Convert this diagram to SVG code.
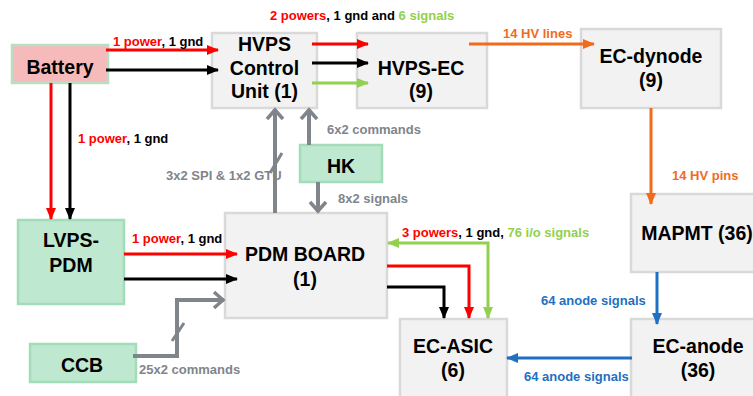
<svg xmlns="http://www.w3.org/2000/svg" width="753" height="396" viewBox="0 0 753 396">
<style>
.box{fill:#f2f2f2;stroke:#d9d9d9;stroke-width:2.5}
.gbox{fill:#bfe8d0;stroke:#a3dcb8;stroke-width:2.5}
.pbox{fill:#f7baba;stroke:#b7dfc4;stroke-width:2.5}
.t{font-family:"Liberation Sans",Arial,sans-serif;font-weight:bold;font-size:19.5px;fill:#000;text-anchor:middle}
.l{font-family:"Liberation Sans",Arial,sans-serif;font-weight:bold;font-size:13px}
.r{fill:#ff0000}.k{fill:#000}.g{fill:#92d050}.o{fill:#f26b1d}.b{fill:#1f70c1}.y{fill:#80858c}
.ln{fill:none;stroke-width:3}
.gr{fill:none;stroke:#80858c;stroke-width:4}
.sl{fill:none;stroke:#80858c;stroke-width:3}
</style>
<defs>
<marker id="ar" markerUnits="userSpaceOnUse" markerWidth="12" markerHeight="12" refX="11" refY="6" orient="auto"><path d="M0,1 L12,6 L0,11 Z" fill="#ff0000"/></marker>
<marker id="ak" markerUnits="userSpaceOnUse" markerWidth="12" markerHeight="12" refX="11" refY="6" orient="auto"><path d="M0,1 L12,6 L0,11 Z" fill="#000"/></marker>
<marker id="ag" markerUnits="userSpaceOnUse" markerWidth="12" markerHeight="12" refX="11" refY="6" orient="auto-start-reverse"><path d="M0,1 L12,6 L0,11 Z" fill="#92d050"/></marker>
<marker id="ao" markerUnits="userSpaceOnUse" markerWidth="12" markerHeight="12" refX="11" refY="6" orient="auto"><path d="M0,1 L12,6 L0,11 Z" fill="#f26b1d"/></marker>
<marker id="ab" markerUnits="userSpaceOnUse" markerWidth="12" markerHeight="12" refX="11" refY="6" orient="auto"><path d="M0,1 L12,6 L0,11 Z" fill="#1f70c1"/></marker>
<marker id="ay" markerUnits="userSpaceOnUse" markerWidth="14" markerHeight="20" refX="12" refY="10" orient="auto"><path d="M2,2 L11,10 L2,18" fill="none" stroke="#80858c" stroke-width="3.5"/></marker>
</defs>

<g id="Battery"><rect class="pbox" x="12" y="45" width="96" height="38"/><text class="t" x="60" y="74">Battery</text></g>
<g id="HVPSCU"><rect class="box" x="212" y="33" width="105" height="75"/><text class="t" x="264.5" y="51">HVPS</text><text class="t" x="264.5" y="75">Control</text><text class="t" x="264.5" y="98">Unit (1)</text></g>
<g id="HVPSEC"><rect class="box" x="357" y="33" width="130" height="75"/><text class="t" x="421" y="75">HVPS-EC</text><text class="t" x="421" y="98">(9)</text></g>
<g id="ECdynode"><rect class="box" x="581" y="29" width="140" height="79"/><text class="t" x="651" y="63">EC-dynode</text><text class="t" x="651" y="87">(9)</text></g>
<g id="MAPMT"><rect class="box" x="631" y="194" width="130" height="78"/><text class="t" x="697" y="240">MAPMT (36)</text></g>
<g id="ECanode"><rect class="box" x="631" y="319" width="130" height="85"/><text class="t" x="698" y="353">EC-anode</text><text class="t" x="698" y="377">(36)</text></g>
<g id="ECASIC"><rect class="box" x="400" y="319" width="107" height="85"/><text class="t" x="453" y="353">EC-ASIC</text><text class="t" x="453" y="377">(6)</text></g>
<g id="PDM"><rect class="box" x="225" y="213" width="162" height="105"/><text class="t" x="305" y="261">PDM BOARD</text><text class="t" x="305" y="286">(1)</text></g>
<g id="LVPS"><rect class="gbox" x="18" y="220" width="106" height="84"/><text class="t" x="71" y="247">LVPS-</text><text class="t" x="71" y="272">PDM</text></g>
<g id="HK"><rect class="gbox" x="300" y="145" width="82" height="37"/><text class="t" x="341" y="173">HK</text></g>
<g id="CCB"><rect class="gbox" x="30" y="344" width="106" height="38"/><text class="t" x="82" y="372">CCB</text></g>

<g id="connectors">
<path class="ln" stroke="#ff0000" d="M106,50 H218" marker-end="url(#ar)"/>
<path class="ln" stroke="#000" d="M106,70 H218" marker-end="url(#ak)"/>
<path class="ln" stroke="#ff0000" d="M51,83 V219" marker-end="url(#ar)"/>
<path class="ln" stroke="#000" d="M70,83 V219" marker-end="url(#ak)"/>
<path class="ln" stroke="#ff0000" d="M312,44 H368" marker-end="url(#ar)"/>
<path class="ln" stroke="#000" d="M312,63 H368" marker-end="url(#ak)"/>
<path class="ln" stroke="#92d050" d="M312,83 H368" marker-end="url(#ag)"/>
<path class="ln" stroke="#f26b1d" d="M469,44 H594" marker-end="url(#ao)"/>
<path class="ln" stroke="#f26b1d" d="M651,108 V204" marker-end="url(#ao)"/>
<path class="ln" stroke="#1f70c1" d="M657,272 V324" marker-end="url(#ab)"/>
<path class="ln" stroke="#1f70c1" d="M632,358 H507" marker-end="url(#ab)"/>
<path class="ln" stroke="#ff0000" d="M124,254 H237" marker-end="url(#ar)"/>
<path class="ln" stroke="#000" d="M124,279 H237" marker-end="url(#ak)"/>
<path class="ln" stroke="#ff0000" d="M387,266 H469 V318" marker-end="url(#ar)"/>
<path class="ln" stroke="#000" d="M387,287 H444 V318" marker-end="url(#ak)"/>
<path class="ln" stroke="#92d050" d="M388,243 H488 V318" marker-start="url(#ag)" marker-end="url(#ag)"/>
<path class="gr" d="M133,356 H177 V300 H224" marker-end="url(#ay)"/>
<path class="sl" d="M172,341 L184,323"/>
<path class="gr" d="M309,145 V109" marker-end="url(#ay)"/>
<path class="gr" d="M318,182 V212" marker-end="url(#ay)"/>
</g>

<g id="labels">
<text class="l" x="113" y="46"><tspan class="r">1 power</tspan><tspan class="k">, 1 gnd</tspan></text>
<text class="l" x="78" y="143"><tspan class="r">1 power</tspan><tspan class="k">, 1 gnd</tspan></text>
<text class="l" x="270" y="20"><tspan class="r">2 powers</tspan><tspan class="k">, 1 gnd and </tspan><tspan class="g">6 signals</tspan></text>
<text class="l o" x="503" y="38">14 HV lines</text>
<text class="l o" x="672" y="180">14 HV pins</text>
<text class="l b" x="541" y="305">64 anode signals</text>
<text class="l b" x="524" y="381">64 anode signals</text>
<text class="l" x="402" y="237"><tspan class="r">3 powers</tspan><tspan class="k">, 1 gnd, </tspan><tspan class="g">76 i/o  signals</tspan></text>
<text class="l" x="132" y="243"><tspan class="r">1 power</tspan><tspan class="k">, 1 gnd</tspan></text>
<text class="l y" x="139" y="374">25x2 commands</text>
<text class="l y" x="166" y="180">3x2 SPI &amp; 1x2 GTU</text>
<text class="l y" x="327" y="134">6x2 commands</text>
<text class="l y" x="338" y="203">8x2 signals</text>
</g>
<g id="spi">
<path class="gr" d="M275,213 V109" marker-end="url(#ay)"/>
<path class="sl" d="M270,173 L282,153"/>
</g>
</svg>
